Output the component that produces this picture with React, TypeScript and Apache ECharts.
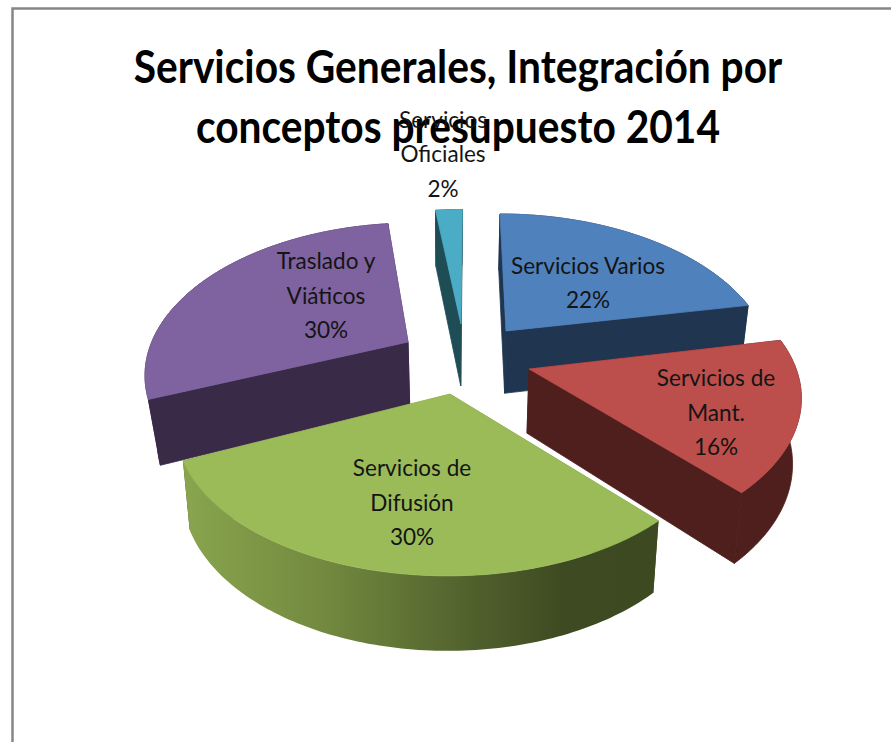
import React, { useEffect, useRef } from "react";
import * as echarts from "echarts";

const categories = ["Servicios Varios", "Servicios de\nMant.", "Servicios de\nDifusión", "Traslado y\nViáticos", "Servicios\nOficiales"];
const values = [22, 16.4, 29.6, 30, 2];
const titleLines = ["Servicios Generales, Integración por", "conceptos presupuesto 2014"];

// layout & style
const apexes = [[506, 331], [529, 369], [450, 394], [408, 342], [461, 324]];
const arcOffsets = [[0, 0], [6, -3], [-2.4, 0], [2, -2], [2.5, 2.5]];
const radiusScales = [0.992, 1, 1.021, 0.99, 1];
const shiftFactors = [0.6, 0, 0, 0.6, 0.6];
const startAngleTweaks = [0, 0, 0, 2.7, 0];
const lowerScales = [0.975, 0.975, 0.975, 0.96, 0.975];
const labelCenters = [[588, 281.5], [716, 411.5], [412, 501.5], [326, 294.5], [443, 153]];
const topColors = ["#4f81bd", "#bc4e4b", "#9bbb59", "#7f63a1", "#4bacc6"];
const wallColors = ["#1f3550", "#4f1f1e", "#3e4a21", "#392a47", "#1f4d55"];
const paintOrder = [1, 3, 4, 2, 0];
const RX = 260, RY = 142.4, K = 0.217, VX = 450;

function topPoint(i: number, deg: number) {
  const apex = apexes[i];
  const t = (deg * Math.PI) / 180;
  const near = -Math.cos(t);
  const s = 1 / (1 - K * near);
  return [
    apex[0] + arcOffsets[i][0] + RX * radiusScales[i] * Math.sin(t) * s + (apex[0] - VX) * (s - 1) * shiftFactors[i],
    apex[1] + arcOffsets[i][1] + RY * near * s,
  ];
}
function lower(p: number[], i: number) {
  return [VX + (p[0] - VX) * lowerScales[i], p[1] + 56 + (p[1] - 211) * 0.052];
}

function renderSlice(params: any, api: any) {
  const i = params.dataIndex;
  const total = values.reduce((a, b) => a + b, 0);
  const before = values.slice(0, i).reduce((a, b) => a + b, 0);
  const a0 = (before / total) * 360 + startAngleTweaks[i];
  const a1 = ((before + api.value(1)) / total) * 360;
  const apex = apexes[i];
  const arc: number[][] = [];
  const n = Math.max(2, Math.ceil(a1 - a0));
  for (let k = 0; k <= n; k++) arc.push(topPoint(i, a0 + ((a1 - a0) * k) / n));
  const low = arc.map((p) => lower(p, i));
  const lowApex = lower(apex, i);
  const order = paintOrder[i] * 10;
  const wallFill = i === 2
    ? new echarts.graphic.LinearGradient(0, 0, 1, 0, [
        { offset: 0, color: "#89a54e" },
        { offset: 0.3, color: "#72893f" },
        { offset: 0.62, color: "#4f5f2c" },
        { offset: 0.8, color: "#3e4a21" },
        { offset: 1, color: "#3d4920" },
      ])
    : wallColors[i];
  const poly = (points: number[][], fill: any, z: number, stroke?: string) => ({
    type: "polygon",
    shape: { points },
    style: stroke ? { fill, stroke, lineWidth: 0.8 } : { fill },
    z2: order + z,
    silent: true,
  });
  const seam = i === 2 ? undefined : wallColors[i];
  const label = String(api.value(2));
  return {
    type: "group",
    children: [
      poly([apex, arc[0], low[0], lowApex], wallColors[i], 0, seam),
      poly([apex, arc[n], low[n], lowApex], wallColors[i], 1, seam),
      poly([...arc, ...low.slice().reverse()], wallFill, 2, seam),
      poly([apex, ...arc], topColors[i], 3, topColors[i]),
      {
        type: "text",
        x: labelCenters[i][0],
        y: labelCenters[i][1],
        scaleX: 0.94,
        z2: 1000,
        silent: true,
        style: {
          text: `${categories[i]}\n${label}%`,
          fill: "#141414",
          font: "24px Lato",
          lineHeight: 34.5,
          align: "center",
          verticalAlign: "middle",
        },
      },
    ],
  };
}

export default function App() {
  const ref = useRef<HTMLDivElement>(null);
  useEffect(() => {
    const chart = echarts.init(ref.current!, undefined, { renderer: "svg" });
    const total = values.reduce((a, b) => a + b, 0);
    chart.setOption({
      animation: false,
      backgroundColor: "#ffffff",
      graphic: [
        {
          type: "polyline",
          silent: true,
          shape: { points: [[12.5, 742], [12.5, 8.5], [891, 8.5]] },
          style: { stroke: "#868686", lineWidth: 2.5, fill: "none" },
        },
        {
          type: "text",
          x: 458,
          y: 95,
          scaleX: 0.885,
          silent: true,
          style: {
            text: titleLines.join("\n"),
            font: "bold 46px Lato",
            lineHeight: 60,
            fill: "#000000",
            align: "center",
            verticalAlign: "middle",
          },
        },
      ],
      series: [
        {
          type: "custom",
          coordinateSystem: "none",
          z: 10,
          renderItem: renderSlice,
          data: values.map((v, i) => ({ name: categories[i], value: [i, v, Math.round((v / total) * 100)] })),
        },
      ],
    });
    return () => chart.dispose();
  }, []);
  return <div ref={ref} style={{ position: "fixed", left: 0, top: 0, width: 891, height: 742 }} />;
}
